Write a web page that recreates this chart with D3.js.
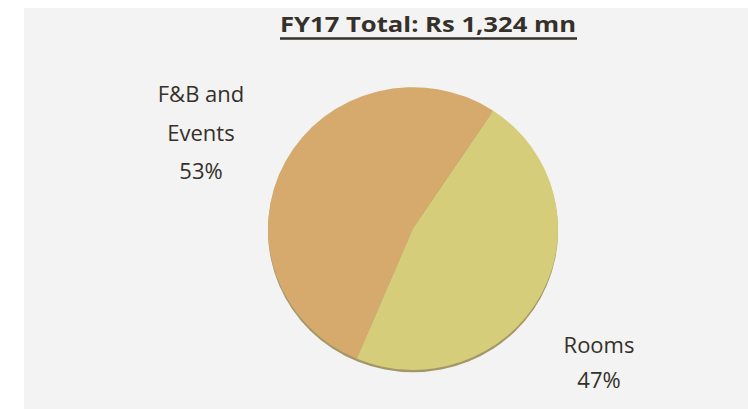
<!DOCTYPE html>
<html>
<head>
<meta charset="utf-8">
<script src="https://cdn.jsdelivr.net/npm/d3@7"></script>
<style>
  html, body { margin: 0; padding: 0; background: #fff; }
  svg { display: block; }
</style>
</head>
<body>
<svg id="chart" width="748" height="409"></svg>
<script>
// Revenue mix, FY17
const categories = ['F&B and Events', 'Rooms'];
const shares = [53, 47];
const labelLines = [['F&B and', 'Events', '53%'], ['Rooms', '47%']];
const colors = ['#d5aa6c', '#d5cd79'];

const svg = d3.select('#chart');

// Panel background
svg.append('rect')
    .attr('x', 24).attr('y', 8)
    .attr('width', 724).attr('height', 401)
    .attr('fill', '#f3f3f3');

// Title with underline
const title = svg.append('text')
    .attr('x', 428).attr('y', 32)
    .attr('text-anchor', 'middle')
    .attr('font-family', '"Open Sans", "DejaVu Sans", sans-serif')
    .attr('font-weight', 'bold')
    .attr('font-size', 22)
    .attr('textLength', 296)
    .attr('lengthAdjust', 'spacingAndGlyphs')
    .attr('fill', '#35302a')
    .text('FY17 Total: Rs 1,324 mn');

svg.append('line')
    .attr('x1', 280).attr('x2', 577)
    .attr('y1', 38.5).attr('y2', 38.5)
    .attr('stroke', '#35302a')
    .attr('stroke-width', 2.5);

// Pie: Rooms slice starts ~34deg clockwise from 12 o'clock
const roomsStart = 33.6 * Math.PI / 180;
const start = roomsStart - shares[0] / d3.sum(shares) * 2 * Math.PI;

const pie = d3.pie()
    .sort(null)
    .value(d => d)
    .startAngle(start)
    .endAngle(start + 2 * Math.PI);

const radius = 145;
const arc = d3.arc().innerRadius(0).outerRadius(radius);

const g = svg.append('g')
    .attr('transform', 'translate(413,228.5) scale(1,0.975)');

// Darker rim under the disc for a slight 3D look
g.append('circle')
    .attr('cx', 0).attr('cy', 2.5)
    .attr('r', radius)
    .attr('fill', '#8f7f45')
    .attr('opacity', 0.8);

g.selectAll('path.slice')
    .data(pie(shares))
    .join('path')
    .attr('class', 'slice')
    .attr('d', arc)
    .attr('fill', (d, i) => colors[i]);

// Labels
const labelPos = [{ x: 201, y: 102, dy: 38.5 }, { x: 599, y: 353, dy: 35 }];

labelLines.forEach((lines, i) => {
    const t = svg.append('text')
        .attr('text-anchor', 'middle')
        .attr('font-family', '"Open Sans", "DejaVu Sans", sans-serif')
        .attr('font-size', 22)
        .attr('fill', '#35302a');
    lines.forEach((line, j) => {
        t.append('tspan')
            .attr('x', labelPos[i].x)
            .attr('y', labelPos[i].y + j * labelPos[i].dy)
            .text(line);
    });
});
</script>
</body>
</html>
